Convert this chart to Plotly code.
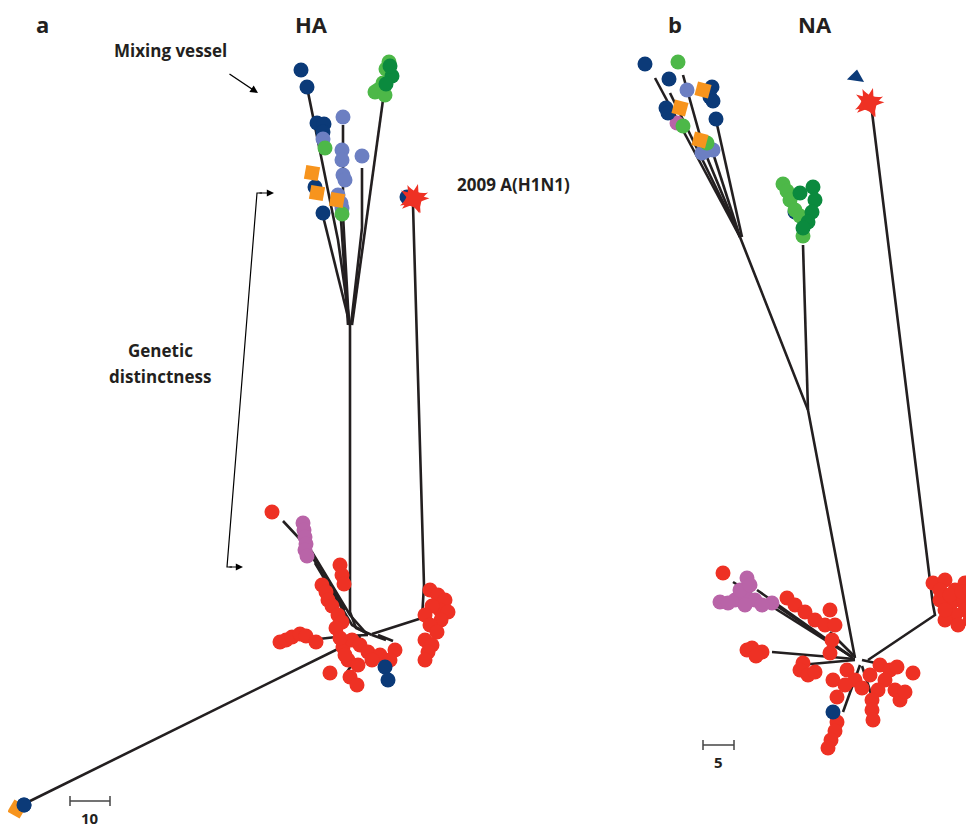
import plotly.graph_objects as go

# ---------------- colours of the host groups ----------------
COL = {
    "navy": "#0b3a78",
    "lblue": "#6c7fc2",
    "lgreen": "#4db848",
    "dgreen": "#0b8a3e",
    "orange": "#f7941d",
    "red": "#ee3124",
    "purple": "#b964a8",
}
LINE_COL = "#231f20"

# ---------------- HA tree (layout units = page pixels) ----------------
ha_branches = [
    [(350, 325), (350, 612), (356, 628), (372, 635)],          # trunk to hub
    [(413, 205), (424, 585), (422, 618), (372, 634)],          # 2009 A(H1N1) branch
    [(308, 92), (338, 240), (350, 325)],                       # navy tips
    [(322, 212), (350, 325)],
    [(343, 125), (343, 215), (349, 325)],                      # light blue
    [(340, 205), (348, 325)],
    [(362, 168), (362, 228), (351, 325)],
    [(383, 100), (352, 325)],                                  # green
    [(283, 521), (312, 552), (350, 615), (366, 633)],          # purple / red upper left
    [(315, 563), (352, 625), (368, 634)],
    [(300, 537), (345, 610)],
    [(310, 640), (345, 636), (368, 635)],                      # left cluster
    [(22, 805), (330, 653), (352, 642)],                       # long outlier branch
    [(355, 660), (347, 672)],
    [(372, 635), (386, 640)],
    [(378, 635), (393, 641)],
    [(360, 636), (356, 648)],
]

ha_pts = {
    "navy": [(301, 70), (307, 87), (317, 123), (324, 124), (323, 132), (315, 187),
             (323, 213), (407, 197), (385, 667), (388, 680), (24, 805)],
    "lblue": [(343, 117), (323, 139), (342, 150), (342, 160), (362, 156), (343, 175),
              (345, 180), (338, 195), (341, 203), (342, 208)],
    "lgreen": [(325, 148), (389, 62), (386, 69), (383, 83), (378, 90), (375, 92),
               (385, 95), (342, 214)],
    "dgreen": [(392, 76), (390, 66), (386, 84)],
    "red": [(272, 512),
            (340, 565), (342, 575), (344, 584), (322, 585), (326, 592), (328, 600),
            (332, 606), (338, 615), (342, 622), (336, 628),
            (280, 642), (286, 640), (292, 637), (300, 634), (306, 636), (316, 642),
            (343, 647), (352, 640), (360, 645), (368, 652), (380, 655), (395, 650),
            (390, 660), (372, 660), (348, 660), (358, 665), (340, 638), (345, 655),
            (330, 673), (350, 677), (357, 685),
            (430, 590), (438, 595), (445, 600), (440, 610), (432, 606), (425, 615),
            (448, 612), (441, 620), (430, 625), (437, 632), (425, 640), (432, 645),
            (428, 652), (425, 660)],
    "purple": [(303, 523), (304, 530), (305, 537), (306, 544), (305, 550), (307, 556)],
}
ha_squares = [(312, 173), (317, 193), (337, 200), (17, 809)]
ha_square_angles = [10, 10, 10, 30]
ha_star = [(414, 199)]

# ---------------- NA tree ----------------
na_branches = [
    [(740, 237), (808, 410), (855, 658)],                      # main trunk
    [(803, 245), (808, 410)],                                  # green branch
    [(655, 78), (740, 237)],
    [(670, 93), (740, 237)],
    [(683, 75), (704, 150), (740, 237)],
    [(712, 150), (740, 237)],
    [(716, 120), (742, 237)],
    [(872, 112), (933, 605), (935, 615), (868, 660)],          # 2009 A(H1N1)
    [(733, 582), (852, 657)],                                  # purple side
    [(757, 590), (852, 657)],
    [(768, 600), (853, 658)],
    [(772, 652), (855, 659)],                                  # left cluster
    [(800, 665), (855, 660)],
    [(830, 632), (855, 657)],
    [(843, 712), (860, 665)],                                  # navy / lower chain
    [(873, 700), (862, 666)],
    [(862, 660), (880, 664)],
]

na_pts = {
    "navy": [(645, 64), (669, 79), (666, 108), (668, 113), (712, 87), (710, 97),
             (713, 101), (716, 119), (795, 212), (833, 712)],
    "lgreen": [(678, 62), (683, 126), (707, 143), (783, 184), (787, 191), (790, 200),
               (795, 210), (800, 216), (803, 236)],
    "dgreen": [(800, 193), (813, 187), (815, 200), (812, 212), (808, 222), (803, 228)],
    "lblue": [(687, 90), (702, 153), (713, 150), (706, 151)],
    "purple": [(677, 123), (720, 602), (747, 578), (772, 603), (735, 600), (745, 595),
               (755, 600), (762, 605), (740, 590), (750, 585), (728, 603), (745, 605)],
    "red": [(723, 573),
            (787, 598), (795, 605), (805, 612), (815, 620), (825, 625), (830, 610),
            (835, 625), (832, 640),
            (747, 650), (752, 648), (762, 652), (756, 656),
            (830, 653), (803, 663), (800, 670), (808, 675), (815, 672),
            (847, 670), (855, 680), (833, 680), (837, 697), (870, 675), (880, 665),
            (890, 670), (897, 667), (913, 673), (895, 690), (900, 700), (905, 692),
            (845, 685), (862, 688), (885, 680), (878, 690),
            (872, 700), (872, 710), (873, 720),
            (837, 722), (835, 731), (831, 740), (828, 748),
            (933, 583), (945, 580), (955, 590), (960, 600), (950, 605), (940, 600),
            (965, 610), (970, 620), (955, 615), (945, 620), (965, 583), (940, 590),
            (950, 595), (962, 592), (972, 600), (970, 590), (958, 625), (945, 610)],
}
na_squares = [(680, 108), (700, 140), (703, 90)]
na_square_angles = [15, 15, 15]
na_star = [(869, 103)]
na_triangle = [(856, 77)]

# ---------------- labels and scale bars ----------------
panel_labels = [("a", 42, 24), ("HA", 311, 24), ("b", 675, 24), ("NA", 815, 24)]
note_labels = [("Mixing vessel", 170, 50), ("2009 A(H1N1)", 513, 184),
               ("Genetic", 160, 350), ("distinctness", 160, 376)]
scale_bars = [(70, 110, 801, "10"), (703, 734, 745, "5")]

FONT = "Open Sans"
fig = go.Figure()


def add_lines(branches):
    xs, ys = [], []
    for br in branches:
        for x, y in br:
            xs.append(x)
            ys.append(y)
        xs.append(None)
        ys.append(None)
    fig.add_trace(go.Scatter(x=xs, y=ys, mode="lines",
                             line=dict(color=LINE_COL, width=2.6),
                             hoverinfo="skip", showlegend=False))


def add_points(pts, symbol="circle", size=15, angles=None, color=None):
    if not pts:
        return
    fig.add_trace(go.Scatter(
        x=[p[0] for p in pts], y=[p[1] for p in pts], mode="markers",
        marker=dict(symbol=symbol, size=size, color=color,
                    angle=angles if angles is not None else 0,
                    line=dict(width=0)),
        hoverinfo="skip", showlegend=False))


add_lines(ha_branches)
add_lines(na_branches)

order = ["red", "purple", "navy", "lblue", "lgreen", "dgreen"]
for key in order:
    add_points(ha_pts.get(key, []), color=COL[key])
    add_points(na_pts.get(key, []), color=COL[key])

add_points(ha_squares, symbol="square", size=14, angles=ha_square_angles, color=COL["orange"])
add_points(na_squares, symbol="square", size=14, angles=na_square_angles, color=COL["orange"])
# the outlier circle sits on top of its square
add_points([(24, 805)], color=COL["navy"])

for stars in (ha_star, na_star):
    add_points(stars, symbol="star", size=22, angles=[15], color=COL["red"])
    add_points(stars, symbol="star-square", size=20, angles=[20], color=COL["red"])
add_points(na_triangle, symbol="triangle-up", size=15, angles=[8], color=COL["navy"])

# scale bars
for x0, x1, y, txt in scale_bars:
    fig.add_trace(go.Scatter(x=[x0, x1, None, x0, x0, None, x1, x1],
                             y=[y, y, None, y - 5, y + 5, None, y - 5, y + 5],
                             mode="lines", line=dict(color="#444444", width=1.5),
                             hoverinfo="skip", showlegend=False))
    fig.add_annotation(x=(x0 + x1) / 2, y=y + 17, text="<b>%s</b>" % txt, showarrow=False,
                       font=dict(family=FONT, size=15, color="#231f20"))

for txt, x, y in panel_labels:
    fig.add_annotation(x=x, y=y, text="<b>%s</b>" % txt, showarrow=False,
                       font=dict(family=FONT, size=22, color="#231f20"))
for txt, x, y in note_labels:
    fig.add_annotation(x=x, y=y, text="<b>%s</b>" % txt, showarrow=False,
                       font=dict(family=FONT, size=17, color="#231f20"))

# arrows
fig.add_annotation(x=258, y=93, ax=228, ay=73, xref="x", yref="y", axref="x", ayref="y",
                   text="", showarrow=True, arrowhead=2, arrowsize=1.2, arrowwidth=1.3,
                   arrowcolor="#000000")
fig.add_trace(go.Scatter(x=[262, 257, 227, 232], y=[193, 193, 567, 567], mode="lines",
                         line=dict(color="#000000", width=1.2),
                         hoverinfo="skip", showlegend=False))
fig.add_annotation(x=274, y=193, ax=258, ay=193, xref="x", yref="y", axref="x", ayref="y",
                   text="", showarrow=True, arrowhead=2, arrowsize=1.2, arrowwidth=1.2,
                   arrowcolor="#000000")
fig.add_annotation(x=243, y=567, ax=228, ay=567, xref="x", yref="y", axref="x", ayref="y",
                   text="", showarrow=True, arrowhead=2, arrowsize=1.2, arrowwidth=1.2,
                   arrowcolor="#000000")

# the page body has an 8px margin: the figure starts at page pixel 8
fig.update_xaxes(range=[8, 974], visible=False, fixedrange=True)
fig.update_yaxes(range=[829, 8], visible=False, fixedrange=True)
fig.update_layout(width=966, height=821, margin=dict(l=0, r=0, t=0, b=0),
                  paper_bgcolor="white", plot_bgcolor="white")

fig.write_html("out.html")
